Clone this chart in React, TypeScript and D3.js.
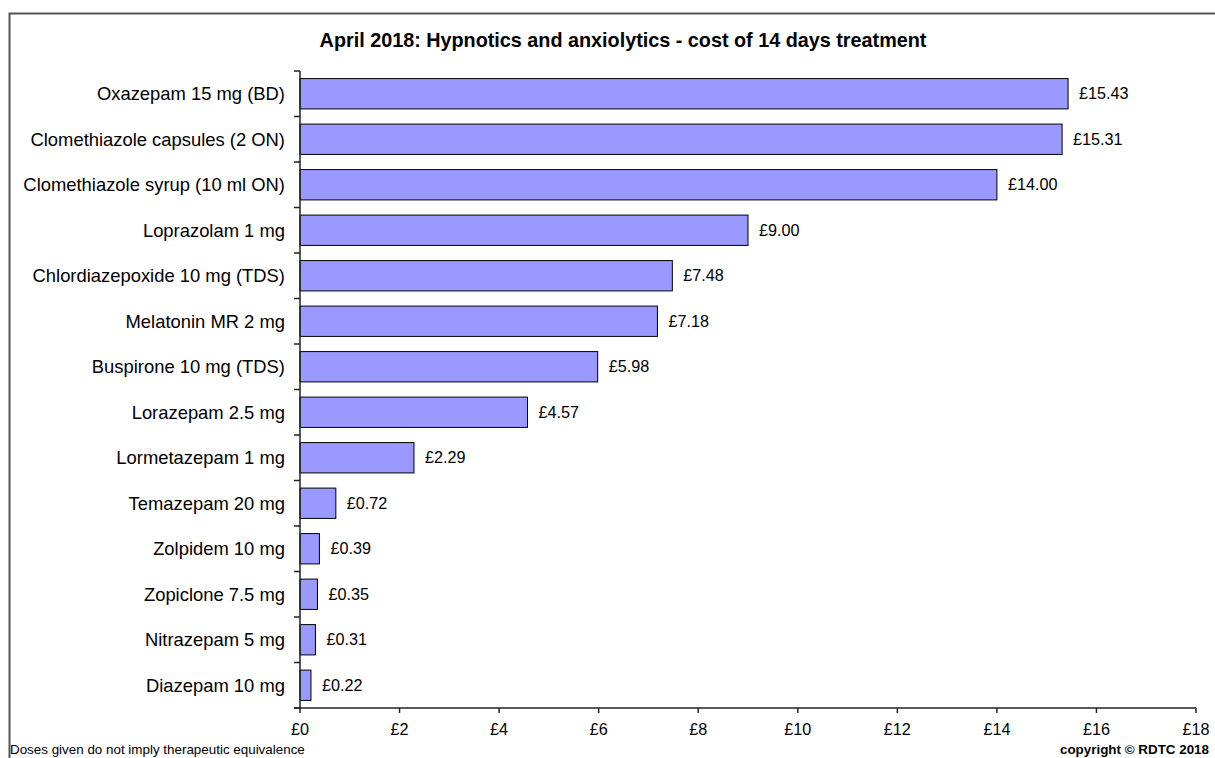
import React from "react";
import * as d3 from "d3";

const categories: string[] = [
  "Oxazepam 15 mg (BD)",
  "Clomethiazole capsules (2 ON)",
  "Clomethiazole syrup (10 ml ON)",
  "Loprazolam 1 mg",
  "Chlordiazepoxide 10 mg (TDS)",
  "Melatonin MR 2 mg",
  "Buspirone 10 mg (TDS)",
  "Lorazepam 2.5 mg",
  "Lormetazepam 1 mg",
  "Temazepam 20 mg",
  "Zolpidem 10 mg",
  "Zopiclone 7.5 mg",
  "Nitrazepam 5 mg",
  "Diazepam 10 mg",
];
const costs: number[] = [15.43, 15.31, 14.0, 9.0, 7.48, 7.18, 5.98, 4.57, 2.29, 0.72, 0.39, 0.35, 0.31, 0.22];
const xTicks: number[] = [0, 2, 4, 6, 8, 10, 12, 14, 16, 18];

const title = "April 2018: Hypnotics and anxiolytics - cost of 14 days treatment";
const footLeft = "Doses given do not imply therapeutic equivalence";
const footRight = "copyright \u00A9 RDTC 2018";

const W = 1215;
const H = 758;
const FONT = "'Liberation Sans', Arial, Helvetica, sans-serif";

export default function App() {
  const left = 300;
  const right = 1196;
  const top = 71;
  const bottom = 708;

  const x = d3.scaleLinear().domain([0, 18]).range([left, right]);
  const y = d3
    .scaleBand<string>()
    .domain(categories)
    .range([top, bottom])
    .paddingInner(1 / 3)
    .paddingOuter(1 / 6);
  const step = y.step();
  const boundaries = d3.range(categories.length + 1).map((i) => top + i * step);
  const fmt = (v: number) => "\u00A3" + v.toFixed(2);

  return (
    <svg
      width={W}
      height={H}
      style={{ position: "absolute", left: 0, top: 0, background: "#fff" }}
      fontFamily={FONT}
    >
      <rect x={0} y={0} width={W} height={H} fill="#fff" />
      {/* outer frame */}
      <rect x={9.5} y={13.5} width={W + 10} height={H + 10} fill="none" stroke="#555" strokeWidth={2} />

      <text x={623} y={47} textAnchor="middle" fontSize={19.8} fontWeight="bold" fill="#000">
        {title}
      </text>

      {/* bars */}
      {categories.map((c, i) => (
        <g key={c}>
          <rect
            x={x(0)}
            y={y(c)!}
            width={x(costs[i]) - x(0)}
            height={y.bandwidth()}
            fill="#9999FF"
            stroke="#000"
            strokeWidth={1}
          />
          <text
            x={x(costs[i]) + 11}
            y={y(c)! + y.bandwidth() / 2}
            dy="0.35em"
            fontSize={16.2}
            fill="#000"
          >
            {fmt(costs[i])}
          </text>
          <text
            x={285}
            y={y(c)! + y.bandwidth() / 2}
            dy="0.35em"
            textAnchor="end"
            fontSize={18.4}
            fill="#000"
          >
            {c}
          </text>
        </g>
      ))}

      {/* y axis */}
      <line x1={left} x2={left} y1={top} y2={bottom} stroke="#222" strokeWidth={1.5} />
      {boundaries.map((b, i) => (
        <line key={i} x1={left - 6} x2={left} y1={b} y2={b} stroke="#222" strokeWidth={1.5} />
      ))}

      {/* x axis */}
      <line x1={left - 6} x2={right} y1={bottom} y2={bottom} stroke="#222" strokeWidth={1.5} />
      {xTicks.map((t) => (
        <g key={t}>
          <line x1={x(t)} x2={x(t)} y1={bottom} y2={bottom + 5} stroke="#222" strokeWidth={1.5} />
          <text x={x(t)} y={bottom + 27} textAnchor="middle" fontSize={16.2} fill="#000">
            {"\u00A3" + t}
          </text>
        </g>
      ))}

      <text x={10} y={754} fontSize={13.4} fill="#000">
        {footLeft}
      </text>
      <text x={1209} y={754} textAnchor="end" fontSize={13.4} fontWeight="bold" fill="#000">
        {footRight}
      </text>
    </svg>
  );
}
